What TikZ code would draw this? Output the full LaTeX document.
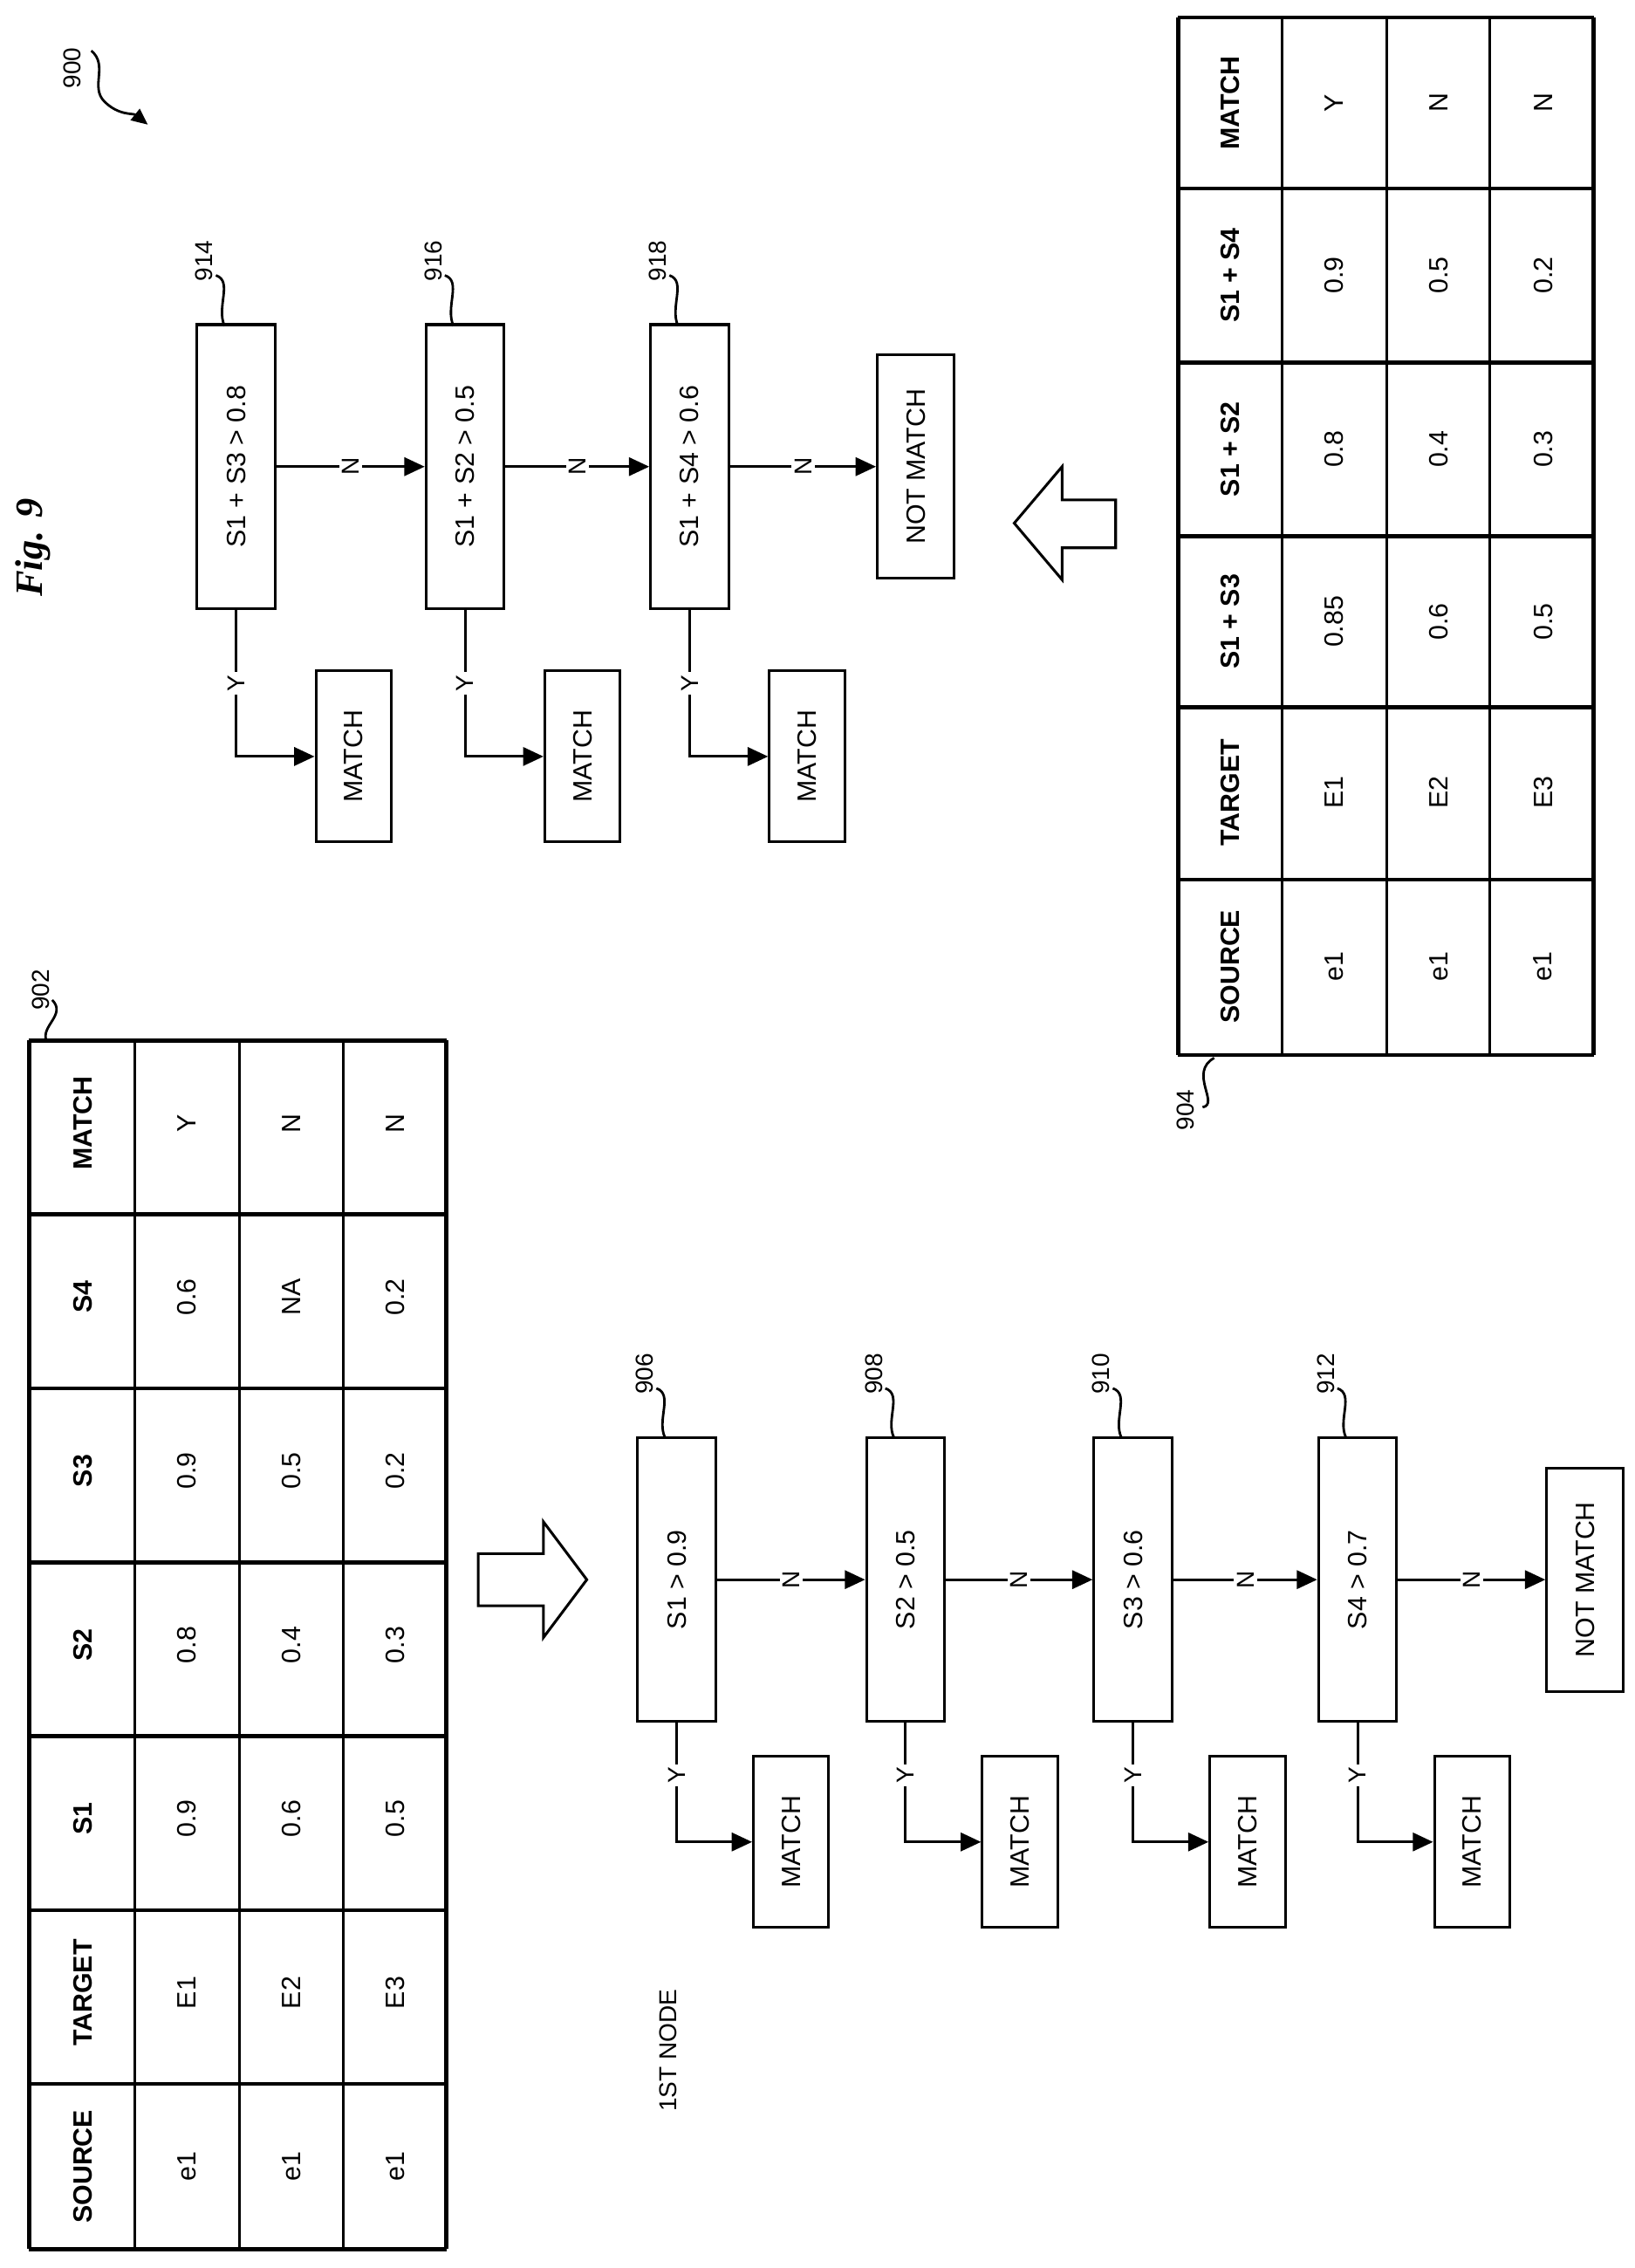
\documentclass[tikz,border=0pt]{standalone}
\usepackage{fontspec}
\setmainfont{Liberation Sans}
\newfontfamily\figfont{Liberation Serif}
\usetikzlibrary{positioning, arrows.meta, calc}

\tikzset{
  txt/.style={rotate=90, font=\fontsize{26}{30}\selectfont, inner sep=0pt},
  hdr/.style={txt, font=\fontsize{26}{30}\selectfont\bfseries},
  box/.style={draw, line width=2.6pt, rotate=90, font=\fontsize{26}{30}\selectfont,
    minimum width=9.8cm, minimum height=2.7cm, inner sep=0pt},
  res/.style={box, minimum width=5.9cm, minimum height=2.6cm},
  nm/.style={box, minimum width=7.7cm, minimum height=2.65cm},
  flow/.style={line width=2.6pt, -{Triangle[length=20pt, width=18pt]}},
  lbl/.style={txt, font=\fontsize{24}{28}\selectfont},
  lead/.style={line width=2.4pt},
  yn/.style={fill=white, inner sep=3pt, rotate=90, font=\fontsize{24}{28}\selectfont}
}

\begin{document}
\begin{tikzpicture}[x=0.05cm, y=-0.05cm]
\useasboundingbox (0,0) rectangle (1128,1565);

% table 902
\foreach \x in {20,308} \draw[line width=4pt] (\x,718) -- (\x,1552);
\foreach \x in {93,165,237} \draw[line width=2.6pt] (\x,718) -- (\x,1552);
\foreach \y in {718,838,958,1078,1198,1318,1438,1552} \draw[line width=4pt] (20,\y) -- (308,\y);
\foreach \t [count=\i] in {SOURCE,TARGET,S1,S2,S3,S4,MATCH}
  \node[hdr] at (57,{1495-120*(\i-1)}) {\t};
\foreach \a/\b/\c/\d/\e/\f/\g [count=\r] in {e1/E1/0.9/0.8/0.9/0.6/Y, e1/E2/0.6/0.4/0.5/NA/N, e1/E3/0.5/0.3/0.2/0.2/N}{
  \foreach \t [count=\i] in {\a,\b,\c,\d,\e,\f,\g}
    \node[txt] at ({129+72*(\r-1)},{1495-120*(\i-1)}) {\t};
}
\node[lbl] (l902) at (28,683) {902};
\draw[lead] (36,690) .. controls (46,700) and (28,708) .. (32,718);

% table 904
\foreach \x in {813,1100} \draw[line width=4pt] (\x,12) -- (\x,728);
\foreach \x in {885,957,1028} \draw[line width=2.6pt] (\x,12) -- (\x,728);
\foreach \y in {12,130,250,370,488,607,728} \draw[line width=4pt] (813,\y) -- (1100,\y);
\foreach \t/\y in {SOURCE/667,TARGET/547,S1 + S3/429,S1 + S2/310,S1 + S4/190,MATCH/71}
  \node[hdr] at (849,\y) {\t};
\foreach \a/\b/\c/\d/\e/\f [count=\r] in {e1/E1/0.85/0.8/0.9/Y, e1/E2/0.6/0.4/0.5/N, e1/E3/0.5/0.3/0.2/N}{
  \foreach \t/\y in {\a/667,\b/547,\c/429,\d/310,\e/190,\f/71}
    \node[txt] at ({921+72*(\r-1)},\y) {\t};
}
\node[lbl] (l904) at (818,766) {904};
\draw[lead] (830,764) .. controls (842,762) and (820,740) .. (838,730);

% first tree
\node[lbl] (first) at (461,1415) {1ST NODE};
\foreach \n/\x/\t in {906/467/S1 > 0.9, 908/625/S2 > 0.5, 910/782/S3 > 0.6, 912/937/S4 > 0.7}{
  \node[box] (b\n) at (\x,1090) {\t};
  \node[res] (m\n) at ({\x+79},1271) {MATCH};
  \node[lbl] (l\n) at ({\x-22},948) {\n};
  \draw[lead] ({\x-14},958) .. controls ({\x-2},962) and ({\x-14},980) .. ({\x-8},992);
  \draw[flow] (b\n.west) |- (m\n.north) node[yn, pos=0.22] {Y};
}
\node[nm] (nm1) at (1094,1090) {NOT MATCH};
\draw[flow] (b906.south) -- (b908.north) node[yn, midway] {N};
\draw[flow] (b908.south) -- (b910.north) node[yn, midway] {N};
\draw[flow] (b910.south) -- (b912.north) node[yn, midway] {N};
\draw[flow] (b912.south) -- (nm1.north) node[yn, midway] {N};

% second tree
\foreach \n/\x/\t in {914/163/S1 + S3 > 0.8, 916/321/S1 + S2 > 0.5, 918/476/S1 + S4 > 0.6}{
  \node[box] (b\n) at (\x,322) {\t};
  \node[res] (m\n) at ({\x+81},522) {MATCH};
  \node[lbl] (l\n) at ({\x-22},180) {\n};
  \draw[lead] ({\x-14},190) .. controls ({\x-2},194) and ({\x-14},212) .. ({\x-8},225);
  \draw[flow] (b\n.west) |- (m\n.north) node[yn, pos=0.25] {Y};
}
\node[nm] (nm2) at (632,322) {NOT MATCH};
\draw[flow] (b914.south) -- (b916.north) node[yn, midway] {N};
\draw[flow] (b916.south) -- (b918.north) node[yn, midway] {N};
\draw[flow] (b918.south) -- (nm2.north) node[yn, midway] {N};

% hollow arrows
\draw[line width=2.6pt, line join=miter] (330,1072) -- (375,1072) -- (375,1050) -- (405,1090)
  -- (375,1130) -- (375,1108) -- (330,1108) -- cycle;
\draw[line width=2.6pt, line join=miter] (770,345) -- (733,345) -- (733,322) -- (700,361)
  -- (733,400) -- (733,378) -- (770,378) -- cycle;

% figure label
\node[rotate=90, font=\fontsize{38}{42}\selectfont\figfont\bfseries\itshape] (fig) at (23,378) {Fig. 9};
\node[lbl] (l900) at (50,47) {900};
\draw[lead, -{Triangle[length=16pt, width=14pt]}] (63,35) .. controls (75,45) and (62,60) .. (72,70)
  .. controls (82,80) and (92,78) .. (102,86);
\end{tikzpicture}
\end{document}
